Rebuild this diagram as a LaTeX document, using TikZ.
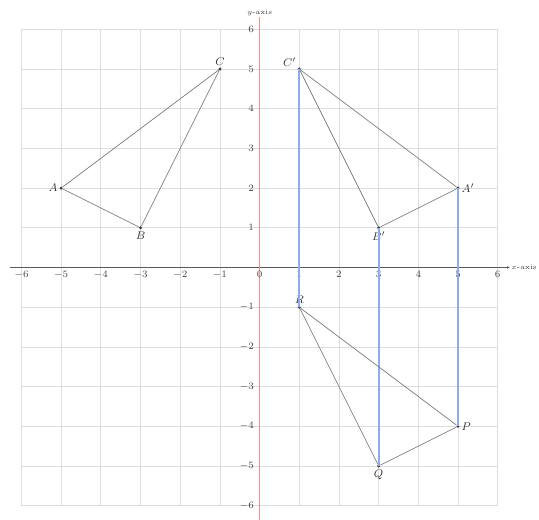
\documentclass[tikz,border=0pt]{standalone}
\usetikzlibrary{arrows.meta}
\definecolor{gridc}{RGB}{222,220,224}
\definecolor{edgec}{RGB}{125,125,125}
\definecolor{bluec}{RGB}{140,172,236}
\definecolor{redc}{RGB}{232,145,145}
\tikzset{
  dotpt/.style={circle,fill=black!75,inner sep=0pt,minimum size=2.4pt},
  edge/.style={draw=edgec,line width=0.5pt},
  proj/.style={draw=bluec,line width=1.3pt},
  tick/.style={font=\scriptsize,text=black!75,inner sep=1pt},
  plabel/.style={font=\footnotesize,text=black!80,inner sep=1pt}
}
\begin{document}
\begin{tikzpicture}
\useasboundingbox (-6.54,-6.34) rectangle (7.04,6.74);
% grid
\draw[gridc,line width=0.5pt] (-6,-6) grid (6,6);
% axes
\draw[black!65,line width=0.6pt,-{Stealth[length=2pt,width=2pt]}] (-6.3,0) -- (6.3,0) node[right,font=\tiny,text=black!75,inner sep=1pt] (xl) {$x$-axis};
\draw[redc,line width=1pt] (0,-6.35) -- (0,6.3) node[above,font=\tiny,text=black!75,inner sep=1pt] (yl) {$y$-axis};
% ticks
\foreach \i in {-6,...,6} \node[tick,below] at (\i,-0.05) {$\i$};
\foreach \i in {-6,...,-1,1,2,...,6} \node[tick,left] at (-0.1,\i) {$\i$};
% points
\node[dotpt,label={[plabel]left:$A$}] (A) at (-5,2) {};
\node[dotpt,label={[plabel]below:$B$}] (B) at (-3,1) {};
\node[dotpt,label={[plabel]above:$C$}] (C) at (-1,5) {};
\node[dotpt,label={[plabel]right:$A'$}] (A1) at (5,2) {};
\node[dotpt,label={[plabel]below:$B'$}] (B1) at (3,1) {};
\node[dotpt,label={[plabel]above left:$C'$}] (C1) at (1,5) {};
\node[dotpt,label={[plabel]right:$P$}] (P) at (5,-4) {};
\node[dotpt,label={[plabel]below:$Q$}] (Q) at (3,-5) {};
\node[dotpt,label={[plabel]above:$R$}] (R) at (1,-1) {};
% projection lines
\draw[proj] (C1.center) -- (R.center);
\draw[proj] (B1.center) -- (Q.center);
\draw[proj] (A1.center) -- (P.center);
% triangles
\draw[edge] (A) -- (B) -- (C) -- (A);
\draw[edge] (A1) -- (B1) -- (C1) -- (A1);
\draw[edge] (P) -- (Q) -- (R) -- (P);
\end{tikzpicture}
\end{document}
